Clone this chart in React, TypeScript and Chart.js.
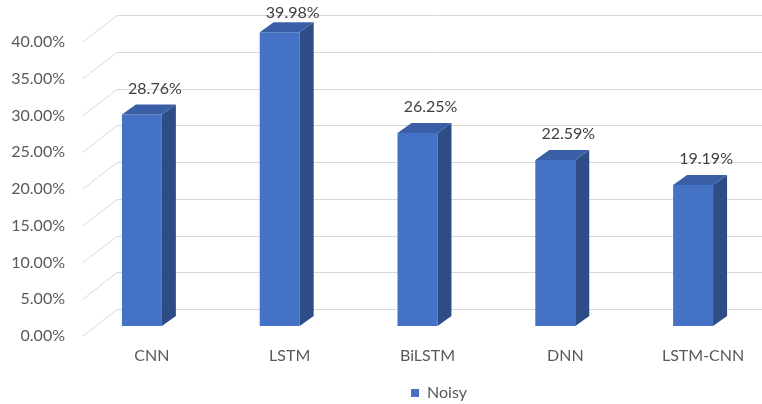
import { useEffect, useRef } from 'react';
import { Chart, registerables } from 'chart.js';

Chart.register(...registerables);

// Model names and their error rates (%) under noisy conditions
const categories = ['CNN', 'LSTM', 'BiLSTM', 'DNN', 'LSTM-CNN'];
const noisyValues = [28.76, 39.98, 26.25, 22.59, 19.19];
const yTickValues = [0, 5, 10, 15, 20, 25, 30, 35, 40];
const seriesName = 'Noisy';

const FRONT = '#4472C4';
const SIDE = '#2E4D87';
const TOP = '#3A5FA6';
const GRID = '#D9D9D9';
const AXIS_TEXT = '#595959';
const LABEL_TEXT = '#404040';
const FONT = 'Lato';
const FONT_SIZE = 16;

// depth offsets for the pseudo-3D look
const BAR_DX = 14;
const BAR_DY = -10;

const wallGrid = {
  id: 'wallGrid',
  beforeDatasetsDraw(chart: any) {
    const { ctx, chartArea, scales } = chart;
    const y = scales.y;
    ctx.save();
    ctx.strokeStyle = GRID;
    ctx.lineWidth = 1;
    y.ticks.forEach((t: any) => {
      const py = y.getPixelForValue(t.value);
      const backY = Math.round(py - 17) + 0.5;
      ctx.beginPath();
      ctx.moveTo(chartArea.left + 10, py + 10);
      ctx.lineTo(chartArea.left + 44, backY);
      ctx.lineTo(chart.width, backY);
      ctx.stroke();
    });
    ctx.restore();
  },
};

const bar3d = {
  id: 'bar3d',
  afterDatasetsDraw(chart: any) {
    const { ctx } = chart;
    const meta = chart.getDatasetMeta(0);
    ctx.save();
    meta.data.forEach((bar: any, i: number) => {
      const { x, y, base, width } = bar.getProps(['x', 'y', 'base', 'width'], true);
      const left = x - width / 2;
      const right = x + width / 2;
      // side face
      ctx.fillStyle = SIDE;
      ctx.beginPath();
      ctx.moveTo(right, y);
      ctx.lineTo(right + BAR_DX, y + BAR_DY);
      ctx.lineTo(right + BAR_DX, base + BAR_DY);
      ctx.lineTo(right, base);
      ctx.closePath();
      ctx.fill();
      // top face
      ctx.fillStyle = TOP;
      ctx.beginPath();
      ctx.moveTo(left, y);
      ctx.lineTo(left + BAR_DX, y + BAR_DY);
      ctx.lineTo(right + BAR_DX, y + BAR_DY);
      ctx.lineTo(right, y);
      ctx.closePath();
      ctx.fill();
      // value label
      ctx.fillStyle = LABEL_TEXT;
      ctx.font = `${FONT_SIZE}px ${FONT}`;
      ctx.textAlign = 'center';
      ctx.textBaseline = 'middle';
      const ly = Math.max(y - 26, 13);
      ctx.fillText(noisyValues[i].toFixed(2) + '%', x + 13, ly);
    });
    ctx.restore();
  },
};

const legendShift = {
  id: 'legendShift',
  afterLayout(chart: any) {
    const lg = chart.legend;
    if (!lg) return;
    lg.left += 58;
    lg.right += 58;
    lg.top += 7;
    lg.bottom += 7;
  },
};

export default function App() {
  const ref = useRef<HTMLCanvasElement>(null);

  useEffect(() => {
    document.body.style.margin = '0';
    const chart = new Chart(ref.current!, {
      type: 'bar',
      data: {
        labels: categories,
        datasets: [
          {
            label: seriesName,
            data: noisyValues,
            backgroundColor: FRONT,
            borderWidth: 0,
            barPercentage: 0.29,
            categoryPercentage: 1,
          },
        ],
      },
      options: {
        responsive: false,
        animation: false,
        layout: { padding: { top: 32, left: 0, right: 0, bottom: 0 } },
        plugins: {
          legend: {
            position: 'bottom',
            labels: {
              boxWidth: 8,
              boxHeight: 8,
              padding: 10,
              color: AXIS_TEXT,
              font: { family: FONT, size: FONT_SIZE },
            },
          },
          tooltip: { enabled: false },
        },
        scales: {
          x: {
            grid: { display: false, drawTicks: false },
            border: { display: false },
            ticks: {
              color: AXIS_TEXT,
              font: { family: FONT, size: FONT_SIZE },
              padding: 20,
              labelOffset: 10,
              maxRotation: 0,
            },
            afterFit(scale: any) {
              scale.height = 42;
            },
          },
          y: {
            min: 0,
            max: 40,
            grid: { display: false, drawTicks: false },
            border: { display: false },
            ticks: {
              color: AXIS_TEXT,
              font: { family: FONT, size: FONT_SIZE },
              padding: 8,
              labelOffset: 10,
              callback: (v: any) => Number(v).toFixed(2) + '%',
            },
            afterBuildTicks(scale: any) {
              scale.ticks = yTickValues.map((v) => ({ value: v }));
            },
            afterFit(scale: any) {
              scale.width = 73;
            },
          },
        },
      },
      plugins: [wallGrid, bar3d, legendShift],
    });
    return () => chart.destroy();
  }, []);

  return <canvas ref={ref} width={762} height={404} style={{ display: 'block' }} />;
}
